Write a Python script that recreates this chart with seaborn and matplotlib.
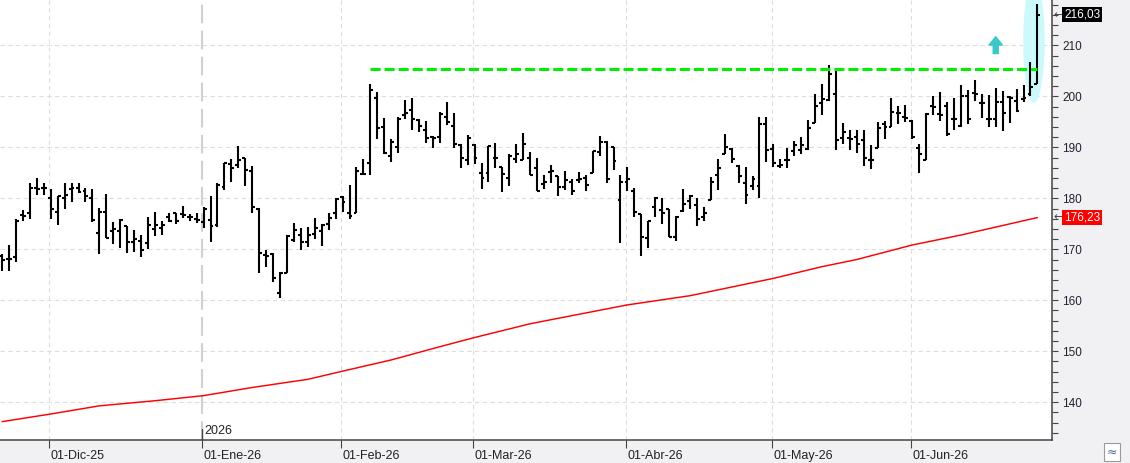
import matplotlib
matplotlib.use("Agg")
import matplotlib.pyplot as plt
import matplotlib.transforms as mtransforms
from matplotlib.patches import Ellipse, Rectangle
from matplotlib.ticker import MultipleLocator
import numpy as np
import pandas as pd
import seaborn as sns

# trading calendar (US market holidays removed)
START = "2025-11-19"
END = "2026-06-26"
HOLIDAYS = ["2025-11-27", "2025-12-25", "2026-01-01", "2026-01-19",
            "2026-02-16", "2026-04-03", "2026-05-25", "2026-06-19"]

OPEN = [168.7, 168.1, 168.4, 176.8, 177.1, 182.0, 182.0, 180.1, 177.4, 180.1,
        181.9, 182.0, 181.4, 180.1, 173.2, 177.4, 173.5, 173.6, 174.5, 171.5,
        171.7, 171.2, 174.0, 174.2, 176.4, 177.2, 176.9, 176.3, 176.0, 175.3,
        175.8, 174.8, 182.3, 186.8, 186.6, 187.9, 185.3, 177.9, 168.9, 169.0,
        161.5, 165.3, 171.9, 172.8, 171.5, 173.0, 173.6, 175.0, 177.1, 180.3,
        177.1, 177.2, 184.8, 187.0, 199.7, 194.0, 188.4, 190.1, 196.3, 197.4,
        195.3, 193.5, 192.1, 192.1, 196.0, 194.2, 190.4, 187.6, 190.4, 185.0,
        185.0, 187.9, 186.2, 183.9, 187.7, 187.6, 187.9, 186.0, 182.9, 185.1,
        184.3, 182.2, 183.3, 183.5, 184.0, 185.0, 189.0, 191.1, 190.0, 179.6,
        183.3, 181.4, 177.0, 172.2, 178.3, 177.8, 177.9, 172.5, 177.6, 179.4,
        178.7, 176.3, 179.6, 184.6, 188.7, 189.6, 186.4, 183.1, 182.5, 182.5,
        194.5, 189.6, 186.4, 187.5, 189.2, 189.4, 189.7, 194.8, 198.6, 199.3,
        200.4, 191.9, 191.9, 192.1, 191.5, 187.5, 189.9, 194.5, 194.0, 196.8,
        196.0, 195.1, 189.8, 187.6, 198.1, 196.5, 198.1, 195.5, 194.1, 200.1,
        200.6, 198.6, 195.6, 195.5, 198.9, 199.9, 199.1, 199.4, 200.4, 202.4]
HIGH = [169.0, 170.9, 175.9, 177.8, 183.0, 184.0, 183.0, 181.9, 180.4, 183.0,
        183.0, 183.0, 182.0, 181.9, 178.1, 180.9, 175.3, 175.9, 174.6, 173.8,
        172.8, 176.4, 177.4, 175.6, 177.2, 177.2, 178.5, 177.0, 177.2, 178.3,
        180.5, 183.0, 186.9, 187.7, 190.2, 187.9, 186.4, 178.1, 169.9, 169.2,
        165.6, 172.8, 175.1, 174.1, 174.4, 176.1, 175.0, 177.1, 180.1, 180.5,
        182.7, 186.2, 187.7, 202.4, 200.9, 195.8, 191.7, 196.0, 199.2, 199.7,
        195.6, 195.1, 192.3, 197.0, 198.8, 196.7, 190.7, 192.5, 190.7, 186.9,
        190.2, 190.9, 186.2, 188.6, 190.7, 192.9, 189.0, 187.9, 184.6, 186.6,
        184.4, 185.4, 183.7, 185.1, 184.6, 189.2, 192.3, 191.2, 190.1, 184.6,
        186.2, 182.0, 177.0, 175.6, 180.3, 180.1, 178.0, 176.6, 181.8, 180.7,
        180.1, 178.3, 184.2, 187.8, 192.7, 189.9, 186.6, 186.2, 184.3, 195.9,
        196.0, 190.6, 187.7, 189.8, 191.2, 192.1, 195.3, 200.4, 202.4, 206.1,
        205.2, 194.8, 193.4, 193.5, 193.5, 190.4, 194.9, 195.1, 199.7, 198.1,
        198.4, 195.3, 190.6, 196.7, 200.1, 200.9, 198.9, 199.7, 202.2, 201.2,
        203.3, 200.4, 200.2, 201.7, 201.0, 200.1, 201.4, 202.2, 206.8, 218.1]
LOW = [165.8, 165.8, 167.6, 175.6, 176.0, 180.6, 180.6, 175.9, 174.7, 178.0,
       179.2, 181.0, 179.2, 175.3, 169.1, 172.3, 171.0, 170.3, 169.3, 169.5,
       168.4, 170.0, 172.7, 172.8, 175.3, 175.0, 176.2, 175.6, 175.1, 174.2,
       171.5, 174.4, 181.6, 183.3, 186.0, 182.5, 177.1, 165.4, 166.6, 163.6,
       160.4, 165.3, 171.5, 169.9, 170.5, 172.0, 170.7, 173.7, 175.9, 177.4,
       175.9, 177.1, 184.5, 184.5, 191.7, 188.7, 187.1, 188.9, 195.5, 193.4,
       193.0, 190.9, 189.8, 190.9, 194.4, 189.9, 186.0, 186.5, 186.8, 181.8,
       183.3, 186.0, 181.2, 182.5, 186.9, 187.5, 184.5, 181.4, 181.9, 183.1,
       180.4, 181.6, 180.6, 183.0, 181.5, 185.0, 188.4, 183.0, 185.6, 171.3,
       181.5, 176.3, 168.6, 170.3, 176.3, 174.9, 172.4, 171.7, 177.4, 177.9,
       174.6, 175.5, 179.6, 181.7, 188.6, 186.9, 183.1, 178.9, 181.7, 180.1,
       187.2, 186.2, 186.0, 186.0, 188.3, 188.6, 189.4, 194.8, 196.3, 199.0,
       189.4, 190.6, 189.4, 188.8, 186.4, 185.8, 189.9, 191.7, 194.0, 194.5,
       194.9, 191.7, 185.0, 187.5, 196.3, 195.1, 192.2, 193.4, 194.0, 194.6,
       199.1, 195.8, 194.0, 194.0, 193.2, 194.8, 197.0, 198.8, 200.1, 202.4]
CLOSE = [167.9, 168.1, 175.5, 176.6, 182.0, 181.9, 182.0, 178.0, 180.4, 180.7,
         182.0, 181.2, 180.4, 175.7, 177.4, 172.3, 174.0, 175.8, 171.5, 172.0,
         169.9, 174.7, 174.8, 174.8, 175.6, 175.5, 176.8, 176.3, 175.8, 178.0,
         174.6, 182.7, 186.9, 186.0, 187.6, 185.5, 178.3, 169.2, 168.7, 164.3,
         165.4, 172.6, 173.8, 171.5, 172.8, 174.2, 174.8, 176.1, 179.9, 179.2,
         176.6, 185.3, 184.8, 201.2, 193.8, 188.9, 191.0, 195.5, 196.7, 195.6,
         194.2, 191.9, 191.9, 196.5, 195.0, 190.7, 187.9, 191.9, 187.9, 184.0,
         190.2, 187.9, 184.8, 188.4, 188.6, 190.6, 184.6, 181.5, 183.2, 185.3,
         182.2, 183.5, 181.5, 183.7, 182.7, 189.2, 191.1, 183.7, 187.3, 183.3,
         183.8, 177.3, 172.4, 175.6, 180.1, 177.1, 172.4, 176.4, 178.9, 180.5,
         176.0, 177.2, 183.3, 186.0, 190.1, 187.8, 184.3, 180.7, 183.7, 194.5,
         189.4, 186.9, 186.6, 187.6, 190.4, 190.4, 193.7, 198.1, 199.5, 204.3,
         191.4, 193.0, 191.7, 190.6, 187.9, 187.5, 193.8, 194.0, 197.0, 196.7,
         195.8, 192.1, 188.7, 196.5, 198.0, 196.3, 192.7, 195.5, 200.1, 195.5,
         200.4, 198.6, 195.6, 198.8, 196.7, 199.7, 197.1, 199.7, 201.9, 216.03]

# moving average
MA_DATES = ["2025-11-19", "2025-12-01", "2025-12-10", "2025-12-22", "2026-01-02",
            "2026-01-13", "2026-01-26", "2026-02-02", "2026-02-11", "2026-02-23",
            "2026-03-02", "2026-03-12", "2026-04-01", "2026-04-15", "2026-05-01",
            "2026-05-12", "2026-05-19", "2026-06-01", "2026-06-10", "2026-06-26"]
MA_VALUES = [136.2, 137.7, 139.3, 140.3, 141.3, 142.9, 144.5, 146.1, 148.3, 150.9,
             152.7, 155.4, 159.1, 160.9, 164.3, 166.6, 168.0, 170.85, 172.8, 176.23]

RESIST_LEVEL = 205.3
RESIST_FROM = "2026-02-06"
RESIST_TO = "2026-06-26"

MONTH_LABELS = ["01-Dic-25", "01-Ene-26", "01-Feb-26", "01-Mar-26",
                "01-Abr-26", "01-May-26", "01-Jun-26"]
MONTH_KEYS = ["2025-12", "2026-01", "2026-02", "2026-03", "2026-04", "2026-05", "2026-06"]
YEAR_LABEL = "2026"

LAST_PRICE_LABEL = "216,03"
MA_LABEL = "176,23"

sns.set_theme(style="white")
plt.rcParams["font.family"] = ["Liberation Sans", "DejaVu Sans"]

dates = pd.bdate_range(START, END)
dates = dates[~dates.isin(pd.to_datetime(HOLIDAYS))]
df = pd.DataFrame({"date": dates, "open": OPEN, "high": HIGH,
                   "low": LOW, "close": CLOSE})
df["pos"] = np.arange(len(df))
lookup = pd.Series(df["pos"].values, index=df["date"])

ma = pd.DataFrame({"pos": lookup[pd.to_datetime(MA_DATES)].values, "ma": MA_VALUES})

month_first = df.groupby(df["date"].dt.strftime("%Y-%m"))["pos"].min()
month_pos = [month_first[k] - 0.2 for k in MONTH_KEYS]

fig = plt.figure(figsize=(11.3, 4.63), dpi=100, facecolor="#f1f1f3")
ax = fig.add_axes([0, 23 / 463, 1052 / 1130, 440 / 463])
ax.set_facecolor("white")
ax.set_xlim(-0.3, 151.1)
ax.set_ylim(132.6, 218.9)

grid_kw = dict(color="#dedede", lw=0.8, linestyle=(0, (4, 3)), zorder=0)
for v in range(140, 211, 10):
    ax.axhline(v, **grid_kw)
for i, p in enumerate(month_pos):
    if MONTH_LABELS[i].startswith("01-Ene"):
        ax.axvline(p, color="#d0d0d0", lw=1.5, linestyle=(0, (9, 3.5)), zorder=0)
    else:
        ax.axvline(p, **grid_kw)

# highlight on the breakout bar
ax.add_patch(Ellipse((148.5, 210.8), width=3.1, height=24.1,
                     facecolor="#ccfafc", edgecolor="none", zorder=1))

# OHLC bars
bar_kw = dict(color="black", lw=1.5, zorder=3)
ax.vlines(df["pos"], df["low"], df["high"], **bar_kw)
ax.hlines(df["open"], df["pos"] - 0.42, df["pos"], **bar_kw)
ax.hlines(df["close"], df["pos"], df["pos"] + 0.42, **bar_kw)

sns.lineplot(data=ma, x="pos", y="ma", color="red", lw=1.05, ax=ax,
             legend=False, zorder=2)

ax.hlines(RESIST_LEVEL, lookup[pd.Timestamp(RESIST_FROM)], lookup[pd.Timestamp(RESIST_TO)],
          colors="#00ee00", lw=2.2, linestyles=[(0, (3.3, 1.3))], zorder=4)

ax.annotate("", xy=(143.0, 211.7), xytext=(143.0, 208.4),
            arrowprops=dict(arrowstyle="simple,head_length=0.6,head_width=0.95,tail_width=0.36",
                            color="#38c8c8", mutation_scale=10, shrinkA=0, shrinkB=0),
            zorder=4)

# axes styling
for side in ["top", "left"]:
    ax.spines[side].set_visible(False)
for side in ["right", "bottom"]:
    ax.spines[side].set_color("#444444")
    ax.spines[side].set_linewidth(1.1)

ax.yaxis.tick_right()
ax.set_yticks(range(140, 211, 10))
ax.yaxis.set_minor_locator(MultipleLocator(2))
ax.tick_params(axis="y", which="both", right=True, length=4.5, width=0.8,
               color="#444444", labelsize=8.5, labelcolor="#222233", pad=3)
ax.set_xticks(month_pos)
ax.set_xticklabels(MONTH_LABELS, ha="left")
ax.tick_params(axis="x", bottom=True, length=6, width=0.8, color="#444444",
               labelsize=9, labelcolor="#222222", pad=1)
offset = mtransforms.ScaledTranslation(1.5 / 100, 0, fig.dpi_scale_trans)
for lab in ax.get_xticklabels():
    lab.set_transform(lab.get_transform() + offset)
ax.set_xlabel("")
ax.set_ylabel("")

# year marker above the axis
jan_pos = month_pos[MONTH_LABELS.index("01-Ene-26")]
blend = mtransforms.blended_transform_factory(ax.transData, ax.transAxes)
ax.plot([jan_pos, jan_pos], [0, 0.024], transform=blend, color="#444444",
        lw=1.0, clip_on=False, zorder=5)
ax.text(jan_pos + 0.25, 0.006, YEAR_LABEL, transform=blend, fontsize=9,
        color="#222222", ha="left", va="bottom")

# price tags on the right axis
tag = mtransforms.blended_transform_factory(ax.transAxes, ax.transData)
for value, text, bg in [(CLOSE[-1], LAST_PRICE_LABEL, "black"), (MA_VALUES[-1], MA_LABEL, "#ff0000")]:
    ax.text(1.0015, value, "\u2190", transform=tag, fontsize=8, color="#444444",
            ha="left", va="center", family="DejaVu Sans", clip_on=False)
    ax.text(1.0115, value, text, transform=tag, fontsize=8.5, color="white",
            ha="left", va="center", clip_on=False,
            bbox=dict(boxstyle="square,pad=0.15", fc=bg, ec="none"))

# small toolbar button in the corner
fig.patches.append(Rectangle((1104 / 1130, 2 / 463), 16 / 1130, 18 / 463,
                             transform=fig.transFigure, facecolor="white",
                             edgecolor="#9a9a9a", lw=0.8))
fig.text(1112 / 1130, 11 / 463, "\u2248", fontsize=9, color="#4a6a9a",
         ha="center", va="center", family="DejaVu Sans")

fig.savefig("out.png", dpi=100, facecolor=fig.get_facecolor())
